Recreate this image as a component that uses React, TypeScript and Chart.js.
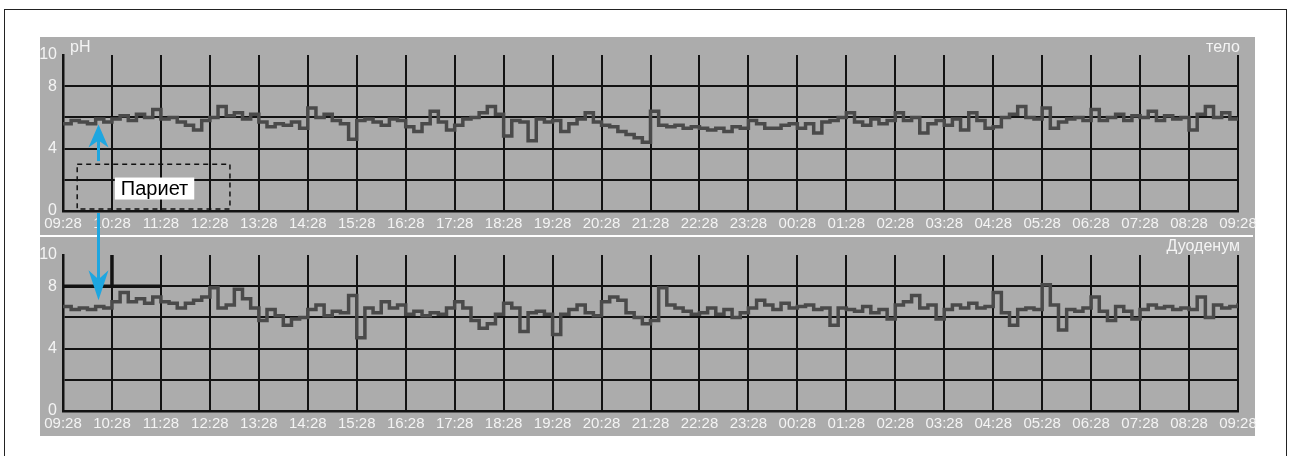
import { useEffect, useRef } from 'react';
import { Chart, registerables } from 'chart.js';

Chart.register(...registerables);

// ---------- data ----------
const TIME_LABELS = [
  '09:28', '10:28', '11:28', '12:28', '13:28', '14:28', '15:28', '16:28', '17:28',
  '18:28', '19:28', '20:28', '21:28', '22:28', '23:28', '00:28', '01:28', '02:28',
  '03:28', '04:28', '05:28', '06:28', '07:28', '08:28', '09:28',
];

const SAMPLES_PER_HOUR = 6;

// stomach body (тело) pH, one reading every 10 minutes
const BODY_PH = [
  5.6, 5.8, 5.7, 5.6, 5.9, 5.7,
  5.9, 6.1, 5.8, 6.2, 6.0, 6.5,
  5.9, 6.0, 5.7, 5.5, 5.2, 5.8,
  6.0, 6.7, 6.1, 6.3, 5.9, 6.2,
  5.7, 5.4, 5.6, 5.5, 5.7, 5.3,
  6.6, 6.0, 6.2, 5.8, 5.6, 4.6,
  5.8, 5.9, 5.7, 5.5, 5.9, 5.8,
  5.4, 5.1, 5.6, 6.4, 5.7, 5.2,
  5.5, 5.9, 6.0, 6.3, 6.7, 6.2,
  4.8, 5.8, 5.7, 4.5, 5.9, 5.7,
  5.8, 5.1, 5.6, 5.9, 6.3, 5.7,
  5.5, 5.4, 5.1, 4.9, 4.7, 4.4,
  6.4, 5.5, 5.4, 5.5, 5.3, 5.4,
  5.3, 5.2, 5.3, 5.1, 5.4, 5.3,
  5.8, 5.6, 5.3, 5.3, 5.5, 5.6,
  5.3, 5.6, 5.0, 5.7, 5.8, 6.0,
  6.3, 5.7, 5.5, 5.9, 5.6, 5.8,
  6.3, 5.8, 6.0, 5.0, 5.6, 5.8,
  5.5, 5.9, 5.2, 6.3, 5.8, 5.3,
  5.4, 6.0, 6.2, 6.7, 6.0, 5.9,
  6.6, 5.3, 5.7, 5.9, 6.0, 5.8,
  6.5, 5.8, 6.0, 6.2, 5.8, 6.1,
  6.0, 6.4, 5.8, 6.1, 5.9, 6.0,
  5.2, 6.2, 6.7, 6.0, 6.3, 5.9,
  5.9,
];

// duodenum (Дуоденум) pH, one reading every 10 minutes
const DUODENUM_PH = [
  6.7, 6.5, 6.6, 6.5, 6.7, 6.6,
  7.0, 7.6, 7.0, 7.2, 6.9, 7.3,
  7.0, 6.9, 6.6, 6.9, 7.1, 7.3,
  7.9, 6.6, 6.8, 7.8, 7.2, 6.6,
  5.8, 6.5, 6.1, 5.5, 5.9, 6.0,
  6.5, 6.8, 6.1, 6.4, 6.3, 7.4,
  4.7, 6.6, 6.3, 7.0, 6.6, 6.8,
  6.2, 6.4, 6.1, 6.3, 6.2, 6.6,
  7.0, 6.6, 5.8, 5.3, 5.6, 6.2,
  6.9, 6.6, 5.1, 6.3, 6.4, 6.2,
  4.9, 6.2, 6.5, 6.8, 6.3, 6.1,
  7.0, 7.3, 7.1, 6.3, 6.0, 5.6,
  5.8, 7.9, 6.8, 6.6, 6.4, 6.2,
  6.3, 6.6, 6.2, 6.5, 6.0, 6.3,
  6.6, 7.1, 6.8, 6.5, 6.9, 6.6,
  6.7, 6.8, 6.5, 6.6, 5.5, 6.6,
  6.5, 6.4, 6.7, 6.3, 6.5, 5.9,
  6.8, 7.0, 7.4, 6.6, 6.8, 5.9,
  6.5, 6.8, 6.6, 6.9, 6.6, 6.7,
  7.6, 6.3, 5.5, 6.5, 6.6, 6.5,
  8.1, 6.8, 5.2, 6.5, 6.4, 6.6,
  7.3, 6.4, 5.8, 6.7, 6.4, 5.9,
  6.5, 6.8, 6.6, 6.7, 6.5, 6.6,
  6.5, 7.3, 6.0, 6.8, 6.6, 6.7,
  6.9,
];

const Y_TICK_LABELS = [0, 4, 8, 10];

// annotation anchors (in data units: hours from start, pH)
const ARROW_HOUR = 0.71;
const TOP_ARROW_TIP_PH = 5.55;
const TOP_ARROW_TAIL_PH = 3.2;
const BOTTOM_ARROW_TIP_PH = 7.1;
const BOX_HOURS = [0.29, 3.41];
const BOX_PH = [0.13, 3.0];
const LABEL_HOUR = 1.87;
const LABEL_PH = 1.44;
const LABEL_TEXT = 'Париет';
// emphasised grid segment in the duodenum panel
const EMPH_HOURS = [0, 2];
const EMPH_PH = 8;
const EMPH_VERT_HOUR = 1;

// ---------- styles ----------
const FONT = '"Liberation Sans", Arial, Helvetica, sans-serif';
const PANEL = '#acacac';
const GRID = '#121212';
const TRACE = '#4a4a4a';
const LABEL = '#f4f4f4';
const BLUE = '#1ea6e0';

function drawArrowHead(ctx: CanvasRenderingContext2D, x: number, tipY: number, dir: number, len: number, hw: number) {
  ctx.beginPath();
  ctx.moveTo(x, tipY);
  ctx.lineTo(x - hw, tipY + dir * len);
  ctx.lineTo(x, tipY + dir * len * 0.7);
  ctx.lineTo(x + hw, tipY + dir * len);
  ctx.closePath();
  ctx.fill();
}

const topPlugin = {
  id: 'topAnnot',
  afterDraw(chart: any) {
    const { ctx, chartArea, scales } = chart;
    const x = scales.x;
    const y = scales.y;
    ctx.save();
    ctx.fillStyle = LABEL;
    ctx.font = `16px ${FONT}`;
    ctx.textBaseline = 'alphabetic';
    ctx.textAlign = 'left';
    ctx.fillText('pH', chartArea.left + 7, chartArea.top - 3);
    ctx.textAlign = 'right';
    ctx.fillText('тело', chartArea.right + 2, chartArea.top - 3);

    // dashed box
    const bx1 = x.getPixelForValue(BOX_HOURS[0]);
    const bx2 = x.getPixelForValue(BOX_HOURS[1]);
    const by1 = y.getPixelForValue(BOX_PH[1]);
    const by2 = y.getPixelForValue(BOX_PH[0]);
    ctx.setLineDash([5, 4]);
    ctx.lineWidth = 1.5;
    ctx.strokeStyle = '#111';
    ctx.strokeRect(bx1, by1, bx2 - bx1, by2 - by1);
    ctx.setLineDash([]);

    // label
    const lx = x.getPixelForValue(LABEL_HOUR);
    const ly = y.getPixelForValue(LABEL_PH);
    ctx.font = `20px ${FONT}`;
    const tw = ctx.measureText(LABEL_TEXT).width;
    ctx.fillStyle = '#ffffff';
    ctx.fillRect(lx - tw / 2 - 6, ly - 11, tw + 12, 22);
    ctx.fillStyle = '#000';
    ctx.textAlign = 'center';
    ctx.textBaseline = 'middle';
    ctx.fillText(LABEL_TEXT, lx, ly + 1);

    // blue arrow pointing up
    const ax = Math.round(x.getPixelForValue(ARROW_HOUR)) + 0.5;
    const tip = y.getPixelForValue(TOP_ARROW_TIP_PH);
    const tail = y.getPixelForValue(TOP_ARROW_TAIL_PH);
    ctx.strokeStyle = BLUE;
    ctx.fillStyle = BLUE;
    ctx.lineWidth = 3;
    ctx.beginPath();
    ctx.moveTo(ax, tip + 14);
    ctx.lineTo(ax, tail);
    ctx.stroke();
    drawArrowHead(ctx, ax, tip, 1, 23, 10);

    // blue line descending to the duodenum panel
    ctx.beginPath();
    ctx.moveTo(ax, y.getPixelForValue(0) + 2);
    ctx.lineTo(ax, chart.height);
    ctx.stroke();
    ctx.restore();
  },
};

const bottomPlugin = {
  id: 'bottomAnnot',
  beforeDatasetsDraw(chart: any) {
    const { ctx, scales } = chart;
    const x = scales.x;
    const y = scales.y;
    ctx.save();
    ctx.strokeStyle = GRID;
    ctx.lineWidth = 3.5;
    ctx.beginPath();
    ctx.moveTo(x.getPixelForValue(EMPH_HOURS[0]), y.getPixelForValue(EMPH_PH));
    ctx.lineTo(x.getPixelForValue(EMPH_HOURS[1]), y.getPixelForValue(EMPH_PH));
    ctx.moveTo(x.getPixelForValue(EMPH_VERT_HOUR), y.getPixelForValue(10));
    ctx.lineTo(x.getPixelForValue(EMPH_VERT_HOUR), y.getPixelForValue(EMPH_PH));
    ctx.stroke();
    ctx.restore();
  },
  afterDraw(chart: any) {
    const { ctx, chartArea, scales } = chart;
    const x = scales.x;
    const y = scales.y;
    ctx.save();
    ctx.fillStyle = LABEL;
    ctx.font = `16px ${FONT}`;
    ctx.textBaseline = 'alphabetic';
    ctx.textAlign = 'right';
    ctx.fillText('Дуоденум', chartArea.right + 2, chartArea.top - 4);

    const ax = Math.round(x.getPixelForValue(ARROW_HOUR)) + 0.5;
    const tip = y.getPixelForValue(BOTTOM_ARROW_TIP_PH);
    ctx.strokeStyle = BLUE;
    ctx.fillStyle = BLUE;
    ctx.lineWidth = 3;
    ctx.beginPath();
    ctx.moveTo(ax, 0);
    ctx.lineTo(ax, tip - 20);
    ctx.stroke();
    drawArrowHead(ctx, ax, tip, -1, 30, 10);
    ctx.restore();
  },
};

function buildConfig(values: number[], padTop: number, axisHeight: number, plugin: any): any {
  return {
    type: 'line',
    data: {
      datasets: [
        {
          data: values.map((v, i) => ({ x: i / SAMPLES_PER_HOUR, y: v })),
          borderColor: TRACE,
          borderWidth: 3.5,
          pointRadius: 0,
          stepped: true,
          fill: false,
        },
      ],
    },
    options: {
      animation: false,
      responsive: false,
      devicePixelRatio: 1,
      layout: { padding: { top: padTop, right: 32, left: 0, bottom: 0 }, autoPadding: false },
      plugins: { legend: { display: false }, tooltip: { enabled: false } },
      scales: {
        x: {
          type: 'linear',
          min: 0,
          max: 24,
          afterFit: (s: any) => {
            s.height = axisHeight;
          },
          grid: { color: GRID, lineWidth: 2, drawTicks: false },
          border: { color: GRID, width: 2.5 },
          ticks: {
            stepSize: 1,
            autoSkip: false,
            maxRotation: 0,
            padding: 4,
            color: LABEL,
            font: { family: FONT, size: 15 },
            callback: (v: number) => TIME_LABELS[v] ?? '',
          },
        },
        y: {
          type: 'linear',
          min: 0,
          max: 10,
          afterFit: (s: any) => {
            s.width = 33;
          },
          grid: {
            color: (c: any) => (c.tick && c.tick.value === 10 ? 'rgba(0,0,0,0)' : GRID),
            lineWidth: 2,
            drawTicks: false,
          },
          border: { color: GRID, width: 2.5 },
          ticks: {
            stepSize: 2,
            padding: 6,
            color: LABEL,
            font: { family: FONT, size: 16 },
            callback: (v: number) => (Y_TICK_LABELS.includes(v) ? String(v) : ''),
          },
        },
      },
    },
    plugins: [plugin],
  };
}

export default function App() {
  const topRef = useRef<HTMLCanvasElement>(null);
  const botRef = useRef<HTMLCanvasElement>(null);

  useEffect(() => {
    const c1 = new Chart(topRef.current as HTMLCanvasElement, buildConfig(BODY_PH, 18, 27, topPlugin));
    const c2 = new Chart(botRef.current as HTMLCanvasElement, buildConfig(DUODENUM_PH, 17, 25, bottomPlugin));
    return () => {
      c1.destroy();
      c2.destroy();
    };
  }, []);

  return (
    <div
      style={{
        position: 'absolute',
        left: 0,
        top: 0,
        width: 1289,
        height: 456,
        overflow: 'hidden',
        background: '#fff',
      }}
    >
      <div
        style={{
          position: 'absolute',
          left: 4,
          top: 9,
          width: 1283,
          height: 447,
          boxSizing: 'border-box',
          borderTop: '1px solid #222',
          borderLeft: '1px solid #222',
          borderRight: '1px solid #222',
        }}
      />
      <div style={{ position: 'absolute', left: 40, top: 37, width: 1215, height: 399, background: PANEL }} />
      <div style={{ position: 'absolute', left: 40, top: 235, width: 1213, height: 2, background: '#fff' }} />
      <canvas
        ref={topRef}
        width={1240}
        height={201}
        style={{ position: 'absolute', left: 30, top: 37, display: 'block' }}
      />
      <canvas
        ref={botRef}
        width={1240}
        height={198}
        style={{ position: 'absolute', left: 30, top: 238, display: 'block' }}
      />
    </div>
  );
}
